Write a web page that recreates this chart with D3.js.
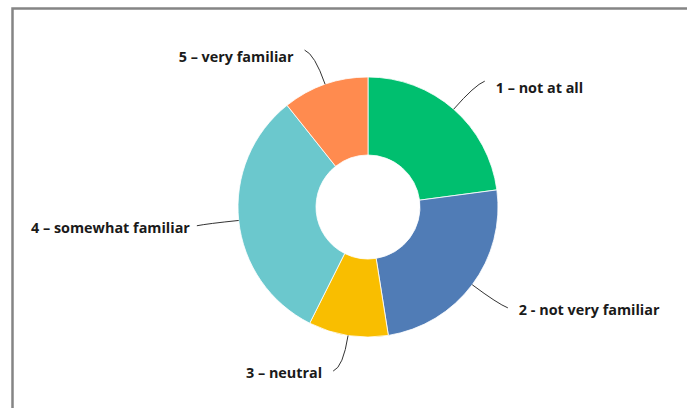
<!DOCTYPE html>
<html>
<head>
<meta charset="utf-8">
<script src="https://cdn.jsdelivr.net/npm/d3@7"></script>
<style>
  html, body { margin: 0; padding: 0; background: #fff; }
  svg { display: block; }
  text { font-family: "Open Sans", Roboto, sans-serif; font-weight: 700; font-size: 14.4px; fill: #1a1a1a; }
</style>
</head>
<body>
<svg id="chart" width="687" height="408"></svg>
<script>
const categories = ["1 – not at all", "2 - not very familiar", "3 – neutral", "4 – somewhat familiar", "5 – very familiar"];
const values = [22.9, 24.6, 9.9, 31.9, 10.7];
const colors = ["#00BF6F", "#507CB6", "#F9BE00", "#6BC8CD", "#FF8B4F"];

const W = 687, H = 408;
const cx = 368, cy = 207, R = 130, r0 = 52;

const svg = d3.select("#chart");

// frame
svg.append("rect")
  .attr("x", 12.5).attr("y", 8.5)
  .attr("width", W + 20).attr("height", H + 20)
  .attr("fill", "none").attr("stroke", "#858585").attr("stroke-width", 2.5);

const data = categories.map((c, i) => ({ cat: c, value: values[i], color: colors[i] }));
const pie = d3.pie().value(d => d.value).sort(null);
const arcs = pie(data);
const arc = d3.arc().innerRadius(r0).outerRadius(R);

const g = svg.append("g").attr("transform", `translate(${cx},${cy})`);

g.selectAll("path.slice").data(arcs).enter().append("path")
  .attr("class", "slice")
  .attr("d", arc)
  .attr("fill", d => d.data.color)
  .attr("stroke", "#fff").attr("stroke-width", 0.8);

function pt(angle, rad) { return [Math.sin(angle) * rad, -Math.cos(angle) * rad]; }

arcs.forEach(d => {
  const a = (d.startAngle + d.endAngle) / 2;
  const side = Math.sin(a) >= 0 ? 1 : -1;
  const vert = Math.abs(Math.cos(a)) > 0.5 ? (Math.cos(a) > 0 ? "top" : "bottom") : "side";
  const A = pt(a, R);
  const B = pt(a, 162);
  const dy = vert === "top" ? -4 : vert === "bottom" ? 4 : 2;
  const C = [B[0] + side * 10, B[1] + dy];
  g.append("path")
    .attr("d", `M${A[0]},${A[1]} Q${B[0]},${B[1]} ${C[0]},${C[1]}`)
    .attr("fill", "none").attr("stroke", "#333").attr("stroke-width", 1);
  g.append("text")
    .attr("x", C[0] + side * (vert === "side" ? 7 : 11))
    .attr("y", C[1] + (vert === "top" ? 8 : 3))
    .attr("dominant-baseline", "middle")
    .attr("text-anchor", side > 0 ? "start" : "end")
    .text(d.data.cat);
});
</script>
</body>
</html>
